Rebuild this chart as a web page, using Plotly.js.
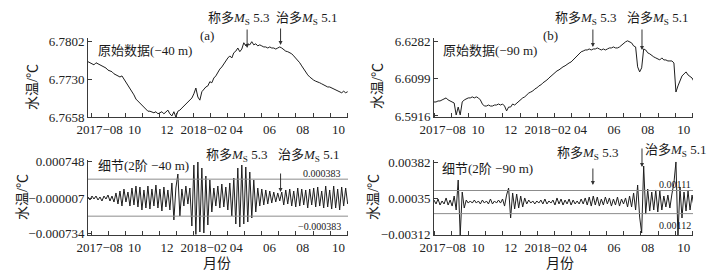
<!DOCTYPE html>
<html><head><meta charset="utf-8">
<script src="https://cdn.plot.ly/plotly-3.0.1.min.js"></script>
<style>html,body{margin:0;padding:0;background:#fff}#chart{width:715px;height:277px}</style>
</head><body><div id="chart"></div>
<script>
// x axis unit: months since 2017-08-01, series sampled every ~3.5 days
const tickVals = [0.5, 2.55, 4.45, 6.6, 8.5, 10.45, 12.4, 14.5];
const tickText = ['2017\u221208', '10', '12', '2018\u221202', '04', '06', '08', '10'];
const startA = -0.18, startB = 0.0, step = 0.117;

// raw water temperature, -40 m (℃)
const rawA = [
6.7763,6.7761,6.7759,6.7757,6.7761,6.7759,6.7757,6.7755,6.7753,6.7751,
6.7747,6.7745,6.7744,6.7740,6.7738,6.7736,6.7734,6.7736,6.7730,6.7725,
6.7717,6.7711,6.7707,6.7700,6.7692,6.7688,6.7683,6.7679,6.7675,6.7671,
6.7669,6.7669,6.7668,6.7666,6.7668,6.7664,6.7666,6.7668,6.7664,6.7668,
6.7671,6.7664,6.7660,6.7668,6.7658,6.7669,6.7671,6.7675,6.7679,6.7683,
6.7686,6.7690,6.7694,6.7702,6.7713,6.7696,6.7690,6.7706,6.7711,6.7715,
6.7717,6.7725,6.7723,6.7732,6.7736,6.7744,6.7749,6.7753,6.7759,6.7763,
6.7770,6.7774,6.7770,6.7780,6.7783,6.7789,6.7782,6.7787,6.7799,6.7793,
6.7797,6.7795,6.7801,6.7795,6.7797,6.7793,6.7795,6.7793,6.7791,6.7791,
6.7789,6.7791,6.7789,6.7789,6.7787,6.7789,6.7791,6.7789,6.7785,6.7783,
6.7782,6.7780,6.7778,6.7774,6.7770,6.7766,6.7761,6.7755,6.7749,6.7744,
6.7738,6.7734,6.7730,6.7728,6.7726,6.7725,6.7723,6.7721,6.7719,6.7717,
6.7715,6.7715,6.7713,6.7711,6.7709,6.7707,6.7706,6.7704,6.7707,6.7704,
6.7706];

// raw water temperature, -90 m (℃)
const rawB = [
6.5985,6.5985,6.5990,6.5990,6.5995,6.6000,6.6005,6.5995,6.5990,6.5985,
6.5980,6.5921,6.5960,6.5921,6.5985,6.5995,6.6000,6.6005,6.6005,6.6010,
6.6005,6.6010,6.6005,6.5995,6.5975,6.5965,6.5965,6.5970,6.5965,6.5965,
6.5970,6.5970,6.5975,6.5970,6.5975,6.5965,6.5941,6.5960,6.5960,6.5975,
6.5970,6.5980,6.5985,6.5995,6.6005,6.6010,6.6020,6.6029,6.6034,6.6039,
6.6049,6.6054,6.6064,6.6069,6.6079,6.6084,6.6093,6.6103,6.6113,6.6123,
6.6128,6.6138,6.6143,6.6153,6.6158,6.6163,6.6172,6.6177,6.6182,6.6192,
6.6202,6.6212,6.6222,6.6232,6.6236,6.6241,6.6241,6.6246,6.6241,6.6246,
6.6246,6.6251,6.6246,6.6241,6.6246,6.6241,6.6246,6.6251,6.6251,6.6256,
6.6251,6.6251,6.6256,6.6266,6.6271,6.6281,6.6286,6.6281,6.6276,6.6261,
6.6256,6.6158,6.6133,6.6153,6.6246,6.6241,6.6227,6.6222,6.6212,6.6207,
6.6202,6.6197,6.6192,6.6202,6.6192,6.6192,6.6187,6.6187,6.6187,6.6177,
6.6034,6.6064,6.6093,6.6113,6.6123,6.6133,6.6118,6.6108,6.6103,6.6084];

// 2nd-order detail, -40 m (℃)
const detA = [
0.000014,-0.000048,0.000034,-0.000028,0.000034,-0.000048,0.000014,-0.000069,0.000034,-0.000028,
0.000055,-0.000069,0.000034,-0.000090,0.000097,-0.000131,0.000138,-0.000173,0.000179,-0.000090,
0.000117,-0.000173,0.000200,-0.000152,0.000241,-0.000193,0.000221,-0.000255,0.000159,-0.000214,
0.000241,-0.000235,0.000179,-0.000173,0.000262,-0.000214,0.000179,-0.000276,0.000221,-0.000193,
0.000159,-0.000255,0.000304,-0.000462,0.000200,0.000490,-0.000380,0.000179,-0.000173,0.000241,
-0.000131,0.000200,-0.000587,0.000676,-0.000760,0.000738,-0.000711,0.000614,-0.000732,0.000448,
-0.000566,0.000366,-0.000297,0.000200,-0.000173,0.000241,-0.000214,0.000283,-0.000193,0.000221,
-0.000255,0.000304,-0.000380,0.000407,-0.000545,0.000614,-0.000607,0.000676,-0.000545,0.000635,
-0.000504,0.000531,-0.000421,0.000366,-0.000297,0.000200,-0.000173,0.000179,-0.000152,0.000159,
-0.000131,0.000138,-0.000111,0.000117,-0.000090,0.000097,-0.000069,0.000117,-0.000152,0.000159,
-0.000131,0.000179,-0.000173,0.000138,-0.000193,0.000200,-0.000173,0.000179,-0.000152,0.000159,
-0.000214,0.000179,-0.000152,0.000200,-0.000193,0.000221,-0.000173,0.000138,-0.000214,0.000241,
-0.000193,0.000159,-0.000235,0.000241,-0.000214,0.000179,-0.000255,0.000221,-0.000173,0.000200,
-0.000131];

// 2nd-order detail, -90 m (℃)
const detB = [
0.00019,-0.00019,0.00029,-0.00029,0.00010,-0.00019,0.00039,-0.00029,0.00019,-0.00039,
0.00058,-0.00077,0.00212,-0.00318,0.00096,-0.00058,0.00019,-0.00010,0.00010,-0.00010,
0.00019,-0.00010,0.00010,-0.00019,0.00019,-0.00010,0.00010,-0.00019,0.00029,-0.00019,
0.00010,-0.00010,0.00019,-0.00010,0.00029,-0.00039,0.00067,0.00135,-0.00154,0.00087,
-0.00067,0.00077,-0.00058,0.00058,-0.00048,0.00039,-0.00019,0.00019,-0.00010,0.00010,
-0.00019,0.00010,-0.00010,0.00019,-0.00019,0.00029,-0.00019,0.00010,-0.00010,0.00019,
-0.00029,0.00039,-0.00019,0.00029,-0.00029,0.00019,-0.00019,0.00029,-0.00029,0.00019,
-0.00019,0.00010,-0.00019,0.00029,-0.00019,0.00039,-0.00029,0.00048,-0.00039,0.00058,
-0.00029,0.00048,-0.00039,0.00029,-0.00029,0.00048,-0.00019,0.00039,-0.00039,0.00029,
-0.00029,0.00048,-0.00039,0.00029,-0.00019,0.00039,-0.00048,0.00058,-0.00048,0.00087,
-0.00077,0.00164,-0.00145,-0.00299,0.00347,-0.00116,0.00125,-0.00087,0.00096,-0.00077,
0.00116,-0.00096,0.00106,-0.00077,0.00058,-0.00048,0.00067,-0.00058,0.00077,0.00183,
0.00386,-0.00337,0.00145,-0.00154,0.00096,-0.00087,0.00106,-0.00077,0.00067,-0.00048];

const quakeA = [9.14, 11.1];   // 称多 Ms5.3, 治多 Ms5.1 (panel a)
const quakeB = [9.22, 12.07];  // panel b
const limA = [0.000383, -0.000383];
const limB = [0.00111, -0.00112];

const W = 715, H = 277;
const px = v => v / W, py = v => 1 - v / H;
const xsFrom = (start, n) => Array.from({length: n}, (_, i) => start + i * step);

const serif = 'Liberation Serif, "Noto Sans CJK SC", serif';
const cjk = 'Liberation Serif, "Noto Sans CJK SC", sans-serif';
const lineC = '#1e1e1e', axC = '#3a3a3a';

const lineStyle = {color: lineC, width: 1};
const traces = [
  {x: xsFrom(startA, rawA.length), y: rawA, xaxis: 'x', yaxis: 'y', mode: 'lines', line: lineStyle},
  {x: xsFrom(startB, rawB.length), y: rawB, xaxis: 'x2', yaxis: 'y2', mode: 'lines', line: lineStyle},
  {x: xsFrom(startA, detA.length), y: detA, xaxis: 'x3', yaxis: 'y3', mode: 'lines', line: lineStyle},
  {x: xsFrom(startB, detB.length), y: detB, xaxis: 'x4', yaxis: 'y4', mode: 'lines', line: lineStyle}
];

const domXA = [px(88), px(348)], domXB = [px(434), px(693)];
const domYT = [py(117), py(38)], domYB = [py(235), py(160)];

function xax(dom, range, anchor) {
  return {domain: dom, range: range, anchor: anchor, showline: true, linecolor: axC, linewidth: 1,
    showgrid: false, zeroline: false, tickmode: 'array', tickvals: tickVals, ticktext: tickText,
    ticks: '', tickfont: {family: serif, size: 13, color: '#222'},
    minor: {tick0: 0, dtick: 1, ticks: 'inside', ticklen: 4, tickcolor: axC, showgrid: false}};
}
function yax(dom, range, anchor, vals, text) {
  return {domain: dom, range: range, anchor: anchor, showline: true, linecolor: axC, linewidth: 1,
    showgrid: false, zeroline: false, tickmode: 'array', tickvals: vals, ticktext: text,
    ticks: 'inside', ticklen: 4, tickcolor: axC, tickfont: {family: serif, size: 13, color: '#222'}};
}

const ann = [];
function txt(x, y, text, size, opts) {
  ann.push(Object.assign({xref: 'paper', yref: 'paper', x: px(x), y: py(y), text: text, showarrow: false,
    xanchor: 'center', yanchor: 'middle', font: {family: cjk, size: size, color: '#1a1a1a'}}, opts || {}));
}
function arrow(xref, xv, tipY, tailY) {
  ann.push({xref: xref, yref: 'paper', x: xv, y: py(tipY), text: '', showarrow: true, ax: 0, ay: -(tipY - tailY),
    arrowhead: 2, arrowsize: 0.8, arrowwidth: 1, arrowcolor: '#333'});
}
const chengduo = '称多<i>M</i><sub>S</sub> 5.3', zhiduo = '治多<i>M</i><sub>S</sub> 5.1';

// top a
txt(238, 18, chengduo, 13); txt(306, 18, zhiduo, 13);
arrow('x', quakeA[0], 48, 28); arrow('x', quakeA[1], 45, 27);
txt(207, 35, '(a)', 13); txt(145, 51, '原始数据(\u221240 m)', 13);
// top b
txt(585, 18, chengduo, 13); txt(657, 18, zhiduo, 13);
arrow('x2', quakeB[0], 47, 28); arrow('x2', quakeB[1], 50, 28);
txt(550, 35, '(b)', 13); txt(490, 50, '原始数据(\u221290 m)', 13);
// bottom a
txt(236, 155, chengduo, 13); txt(308, 155, zhiduo, 13);
arrow('x3', quakeA[1], 192, 172);
txt(143, 165, '细节(2阶 \u221240 m)', 13);
txt(343, 173, '0.000383', 10, {xanchor: 'right'});
txt(343, 226, '\u22120.000383', 10, {xanchor: 'right'});
// bottom b
txt(587, 153, chengduo, 13); txt(675, 150, zhiduo, 13);
arrow('x4', quakeB[0], 185, 167); arrow('x4', quakeB[1], 167, 147);
txt(487, 168, '细节(2阶 \u221290 m)', 13);
txt(675, 184, '0.00111', 10); txt(675, 225, '0.00112', 10);
// axis titles
[[32, 87], [378, 86], [22, 197], [373, 197]].forEach(p => txt(p[0], p[1], '水温/℃', 14, {textangle: -90}));
txt(217, 263, '月份', 14); txt(560, 263, '月份', 14);

const shapes = [];
limA.forEach(v => shapes.push({type: 'line', xref: 'x3 domain', yref: 'y3', x0: 0, x1: 1, y0: v, y1: v, line: {color: '#8c8c8c', width: 1}}));
limB.forEach(v => shapes.push({type: 'line', xref: 'x4 domain', yref: 'y4', x0: 0, x1: 1, y0: v, y1: v, line: {color: '#8c8c8c', width: 1}}));

const layout = {
  width: W, height: H, margin: {l: 0, r: 0, t: 0, b: 0}, showlegend: false,
  paper_bgcolor: '#fff', plot_bgcolor: '#fff',
  xaxis: xax(domXA, [-0.18, 15.05], 'y'),
  xaxis2: xax(domXB, [0, 15.03], 'y2'),
  xaxis3: xax(domXA, [-0.18, 15.05], 'y3'),
  xaxis4: xax(domXB, [0, 15.03], 'y4'),
  yaxis: yax(domYT, [6.7658, 6.7808], 'x', [6.7658, 6.7730, 6.7802], ['6.7658', '6.7730', '6.7802']),
  yaxis2: yax(domYT, [6.5911, 6.6300], 'x2', [6.5916, 6.6099, 6.6282], ['6.5916', '6.6099', '6.6282']),
  yaxis3: yax(domYB, [-0.000773, 0.000780], 'x3', [-0.000734, -0.000007, 0.000748], ['\u22120.000734', '\u22120.000007', '0.000748']),
  yaxis4: yax(domYB, [-0.00318, 0.00405], 'x4', [-0.00312, 0.00035, 0.00382], ['\u22120.00312', '0.00035', '0.00382']),
  annotations: ann, shapes: shapes
};
Plotly.newPlot('chart', traces, layout, {staticPlot: true, displayModeBar: false});
</script></body></html>
